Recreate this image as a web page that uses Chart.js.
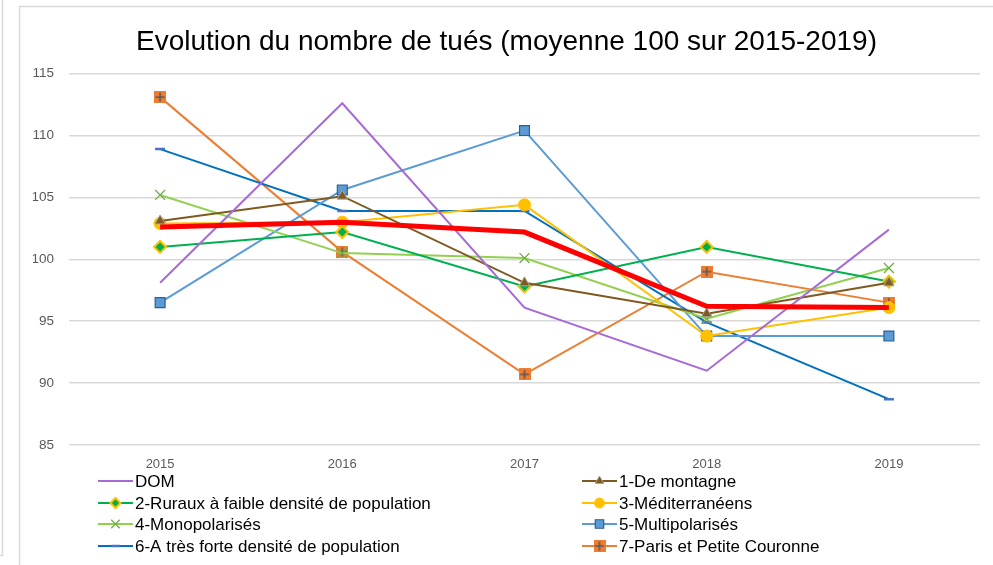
<!DOCTYPE html>
<html lang="fr">
<head>
<meta charset="utf-8">
<title>Evolution du nombre de tués</title>
<script src="https://cdn.jsdelivr.net/npm/chart.js@4.4.1/dist/chart.umd.min.js"></script>
<style>
  html, body { margin: 0; padding: 0; background: #fff; }
  #wrap { position: relative; width: 993px; height: 565px; }
</style>
</head>
<body>
<div id="wrap"><canvas id="graphique"></canvas></div>
<script>
// Données (indice 100 = moyenne 2015-2019)
const annees = ['2015', '2016', '2017', '2018', '2019'];
const ensemble = [102.6, 103.0, 102.2, 96.2, 96.1];
const dom = [98.1, 112.6, 96.1, 91.0, 102.4];
const montagne = [103.1, 105.1, 98.1, 95.6, 98.1];
const ruraux = [101.0, 102.2, 97.8, 101.0, 98.2];
const mediterraneens = [102.9, 103.0, 104.4, 93.8, 96.1];
const monopolarises = [105.2, 100.5, 100.1, 95.2, 99.3];
const multipolarises = [96.5, 105.6, 110.4, 93.8, 93.8];
const forteDensite = [108.9, 103.9, 103.9, 94.9, 88.7];
const paris = [113.1, 100.6, 90.7, 99.0, 96.5];

const nomsSeries = ['DOM', '1-De montagne', '2-Ruraux à faible densité de population', '3-Méditerranéens',
  '4-Monopolarisés', '5-Multipolarisés', '6-A très forte densité de population', '7-Paris et Petite Couronne'];

const POLICE = "'Liberation Sans', Arial, sans-serif";

// Marqueur carré orange avec une croix
function carrePlus() {
  const c = document.createElement('canvas');
  c.width = 12; c.height = 12;
  const x = c.getContext('2d');
  x.fillStyle = '#ED7D31'; x.fillRect(0, 0, 12, 12);
  x.strokeStyle = '#5a5a5a'; x.lineWidth = 1.6;
  x.beginPath(); x.moveTo(6, 1.5); x.lineTo(6, 10.5); x.moveTo(1.5, 6); x.lineTo(10.5, 6); x.stroke();
  return c;
}

function serie(label, data, couleur, extra) {
  return Object.assign({
    label, data, borderColor: couleur, backgroundColor: couleur, borderWidth: 2,
    pointRadius: 0, tension: 0, fill: false
  }, extra || {});
}

const datasets = [
  serie('Ensemble', ensemble, '#FF0000', { borderWidth: 5, legende: false }),
  serie(nomsSeries[0], dom, '#A66BD6'),
  serie(nomsSeries[1], montagne, '#7F5A1E', { pointStyle: 'triangle', pointRadius: 6, pointBackgroundColor: '#7F5A1E', pointBorderColor: '#A5A5A5', pointBorderWidth: 1 }),
  serie(nomsSeries[2], ruraux, '#00B050', { pointStyle: 'rectRot', pointRadius: 6, pointBackgroundColor: '#00B050', pointBorderColor: '#FFC000', pointBorderWidth: 2 }),
  serie(nomsSeries[3], mediterraneens, '#FFC000', { pointStyle: 'circle', pointRadius: 6, pointBackgroundColor: '#FFC000', pointBorderColor: '#FFC000', pointBorderWidth: 1 }),
  serie(nomsSeries[4], monopolarises, '#92D050', { pointStyle: 'crossRot', pointRadius: 7, pointBorderColor: '#70AD47', pointBorderWidth: 1.3 }),
  serie(nomsSeries[5], multipolarises, '#5B9BD5', { pointStyle: 'rect', pointRadius: 7, pointBackgroundColor: '#5B9BD5', pointBorderColor: '#2F5F8F', pointBorderWidth: 1.2 }),
  serie(nomsSeries[6], forteDensite, '#0070C0', { pointStyle: 'line', pointRadius: 5, pointBorderColor: '#4472C4', pointBorderWidth: 2.5 }),
  serie(nomsSeries[7], paris, '#ED7D31', { pointStyle: carrePlus(), pointRadius: 6 })
];

// Cadre gris comme dans le classeur
const cadre = {
  id: 'cadre',
  beforeDraw(chart) {
    const ctx = chart.ctx;
    ctx.save();
    ctx.strokeStyle = '#D9D9D9'; ctx.lineWidth = 1.5;
    ctx.beginPath();
    ctx.moveTo(19.5, 565); ctx.lineTo(19.5, 6.5); ctx.lineTo(993, 6.5);
    ctx.moveTo(2.5, 0); ctx.lineTo(2.5, 555.5); ctx.lineTo(0, 555.5);
    ctx.stroke();
    ctx.restore();
  }
};

// Légende sur deux colonnes (sans la série Ensemble)
const legendeDeuxColonnes = {
  id: 'legendeDeuxColonnes',
  afterDraw(chart) {
    const ctx = chart.ctx;
    const items = chart.data.datasets.filter(d => d.legende !== false);
    const colX = [98, 582];
    const ligneY = [481, 503, 524, 546];
    ctx.save();
    items.forEach((d, i) => {
      const x = colX[i % 2];
      const y = ligneY[Math.floor(i / 2)];
      ctx.strokeStyle = d.borderColor; ctx.lineWidth = d.borderWidth;
      ctx.beginPath(); ctx.moveTo(x, y); ctx.lineTo(x + 35, y); ctx.stroke();
      if (d.pointRadius > 0) {
        ctx.fillStyle = d.pointBackgroundColor || d.borderColor;
        ctx.strokeStyle = d.pointBorderColor || d.borderColor;
        ctx.lineWidth = d.pointBorderWidth || 1;
        Chart.helpers.drawPoint(ctx, { pointStyle: d.pointStyle, radius: d.pointRadius - 1, borderWidth: d.pointBorderWidth || 0, rotation: 0 }, x + 17.5, y);
      }
      ctx.fillStyle = '#000';
      ctx.font = '17px ' + POLICE;
      ctx.textBaseline = 'middle';
      ctx.fillText(d.label, x + 37, y + 1);
    });
    ctx.restore();
  }
};

new Chart(document.getElementById('graphique'), {
  type: 'line',
  data: { labels: annees, datasets },
  options: {
    responsive: true,
    maintainAspectRatio: false,
    animation: false,
    events: [],
    layout: { padding: { left: 33, right: 13, top: 0, bottom: 90 } },
    plugins: {
      legend: { display: false },
      tooltip: { enabled: false },
      title: {
        display: true,
        text: 'Evolution du nombre de tués (moyenne 100 sur 2015-2019)',
        color: '#000',
        font: { family: POLICE, size: 28, weight: 'normal' },
        padding: { top: 25, bottom: 15 }
      }
    },
    scales: {
      x: {
        offset: true,
        grid: { display: false, drawTicks: false },
        border: { display: false },
        ticks: { color: '#595959', font: { family: POLICE, size: 13 }, padding: 12 },
        afterFit(s) { s.height = 30; }
      },
      y: {
        min: 85, max: 115,
        grid: { color: '#D9D9D9', lineWidth: 1.5, drawTicks: false },
        border: { display: false },
        ticks: { stepSize: 5, color: '#595959', font: { family: POLICE, size: 13.5 }, padding: 15 },
        afterFit(s) { s.width = 36; }
      }
    }
  },
  plugins: [cadre, legendeDeuxColonnes]
});
</script>
</body>
</html>
